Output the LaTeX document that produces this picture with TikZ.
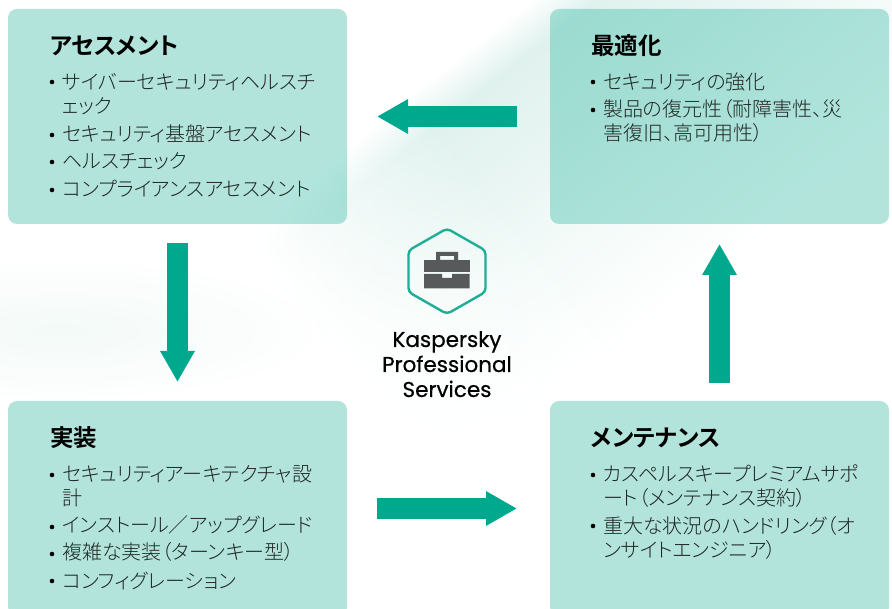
\documentclass[tikz,border=0pt]{standalone}
\usepackage{fontspec}
\setmainfont[FakeBold=0.5]{Poppins}
\newfontfamily\jp[RawFeature=+palt]{Noto Sans CJK JP Light}
\newfontfamily\jpb[RawFeature=+palt]{Noto Sans CJK JP Bold}
\usetikzlibrary{arrows.meta,calc}
\definecolor{teal}{HTML}{00A88E}
\definecolor{hexline}{HTML}{1DAE95}
\definecolor{case}{HTML}{58595B}
\definecolor{ink}{HTML}{1E2523}
\definecolor{tintA}{HTML}{F2FAF8}
\definecolor{tintB}{HTML}{E8F5F2}
\definecolor{tintC}{HTML}{E0F2EE}
\definecolor{tintD}{HTML}{F3FAF8}
\pgfdeclareverticalshading{bandtint}{100bp}{
  color(0bp)=(white);
  color(44.07bp)=(white);
  color(49.5bp)=(tintA);
  color(52.8bp)=(tintB);
  color(56.15bp)=(tintC);
  color(57.8bp)=(white);
  color(100bp)=(white)}
\pgfdeclareverticalshading{bandfade}{100bp}{
  color(0bp)=(white);
  color(44.8bp)=(white);
  color(54bp)=(black);
  color(100bp)=(black)}
\tikzset{
  x=1pt,y=-1pt,
  card/.style={minimum width=339pt,minimum height=215pt,inner sep=0pt,outer sep=0pt,rounded corners=9pt,fill=teal,fill opacity=0.3,anchor=north west},
  flow/.style={draw=teal,line width=20.5pt,-{Triangle[length=31pt,width=32.5pt]}},
  head/.style={anchor=base west,inner sep=0pt,font=\jpb\fontsize{23.5}{23.5}\selectfont,text=black},
  itemline/.style={anchor=base west,inner sep=0pt,font=\jp\fontsize{20}{20}\selectfont,text=ink},
  bul/.style={circle,fill=black,inner sep=0pt,minimum size=4.6pt},
  brand/.style={anchor=base,inner sep=0pt,font=\fontsize{21.5}{21.5}\selectfont,text=black}
}
\begin{document}
\begin{tikzpicture}
\useasboundingbox (0,0) rectangle (892,609);
\clip (0,0) rectangle (892,609);
% background tint
\shade[shading=bandtint,shading angle=38] (-154,-295.5) rectangle (1046,904.5);
\shade[blend mode=screen,shading=bandfade,shading angle=308] (-154,-295.5) rectangle (1046,904.5);
\shade[blend mode=multiply,inner color=tintD,outer color=white] (60,330) ellipse [x radius=280,y radius=75];
% cards
\node[card] (assess) at (8,9) {};
\node[card] (optim) at (550,9) {};
\node[card] (impl) at (8,401) {};
\node[card] (maint) at (550,401) {};
% arrows
\draw[flow,shorten <=33pt,shorten >=30pt] (optim.west) -- (assess.east);
\draw[flow,shorten <=19pt,shorten >=19pt] (assess.south) -- (impl.north);
\draw[flow,shorten <=30pt,shorten >=33pt] (impl.east) -- (maint.west);
\draw[flow,shorten <=18pt,shorten >=20pt] (maint.north) -- (optim.south);
% icon
\draw[hexline,line width=2.4pt,rounded corners=4pt] (447,228.5) -- (485.5,250.5) -- (485.5,292) -- (447,314) -- (408.5,292) -- (408.5,250.5) -- cycle;
\fill[case,even odd rule] (436,252) rectangle (458,260) (440,256) rectangle (454,260);
\fill[case] (424,260) rectangle (469.5,271.7);
\fill[case] (424,274) -- (442,274) -- (442,278) -- (452,278) -- (452,274) -- (469.5,274) -- (469.5,288.5) -- (424,288.5) -- cycle;
\node[brand] (k1) at (447,347) {Kaspersky};
\node[brand] (k2) at (447,372) {Professional};
\node[brand] (k3) at (447,397) {Services};
% assessment
\node[head] (h1) at (50,55) {アセスメント};
\node[bul] (b11) at (52,82) {}; \node[itemline] (t11) at (62,90) {サイバーセキュリティヘルスチ};
\node[itemline] (t12) at (62,114) {ェック};
\node[bul] (b13) at (52,135) {}; \node[itemline] (t13) at (62,142) {セキュリティ基盤アセスメント};
\node[bul] (b14) at (52,162) {}; \node[itemline] (t14) at (62,169) {ヘルスチェック};
\node[bul] (b15) at (52,190) {}; \node[itemline] (t15) at (62,197) {コンプライアンスアセスメント};
% optimisation
\node[head] (h2) at (591,55) {最適化};
\node[bul] (b21) at (593,82) {}; \node[itemline] (t21) at (603,90) {セキュリティの強化};
\node[bul] (b22) at (593,110) {}; \node[itemline] (t22) at (603,117) {製品の復元性（耐障害性、災};
\node[itemline] (t23) at (603,141) {害復旧、高可用性）};
% implementation
\node[head] (h3) at (50,447) {実装};
\node[bul] (b31) at (52,475) {}; \node[itemline] (t31) at (62,482) {セキュリティアーキテクチャ設};
\node[itemline] (t32) at (62,506) {計};
\node[bul] (b33) at (52,527) {}; \node[itemline] (t33) at (62,532) {インストール／アップグレード};
\node[bul] (b34) at (52,554) {}; \node[itemline] (t34) at (62,559) {複雑な実装（ターンキー型）};
\node[bul] (b35) at (52,581) {}; \node[itemline] (t35) at (62,588) {コンフィグレーション};
% maintenance
\node[head] (h4) at (591,447) {メンテナンス};
\node[bul] (b41) at (593,475) {}; \node[itemline] (t41) at (603,482) {カスペルスキープレミアムサポ};
\node[itemline] (t42) at (603,506) {ート（メンテナンス契約）};
\node[bul] (b43) at (593,526) {}; \node[itemline] (t43) at (603,533) {重大な状況のハンドリング（オ};
\node[itemline] (t44) at (603,557) {ンサイトエンジニア）};
\end{tikzpicture}
\end{document}
